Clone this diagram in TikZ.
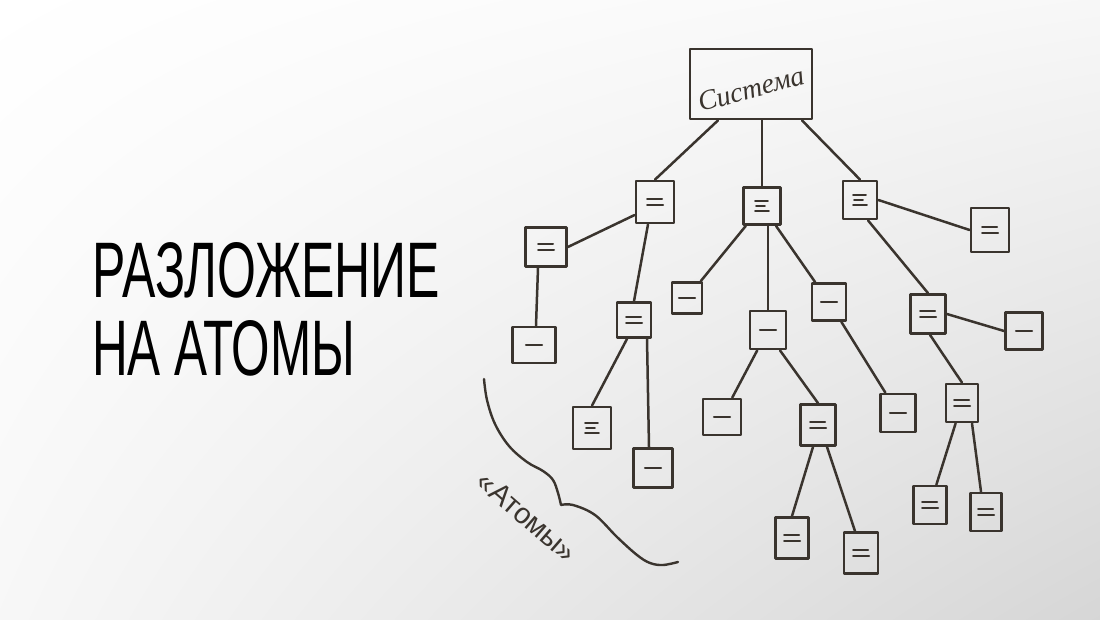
\documentclass[tikz,border=0pt]{standalone}
\usepackage{fontspec}
\setmainfont{Liberation Sans}
\newfontfamily\handfont{Liberation Serif}
\usetikzlibrary{calc,shadings}
\definecolor{ink}{RGB}{58,52,46}
\begin{document}
\begin{tikzpicture}[x=1pt,y=-1pt,
  box/.style={draw=ink, line width=2.8pt, inner sep=0pt, line join=round},
  sz/.style 2 args={minimum width=#1pt, minimum height=#2pt},
  link/.style={draw=ink, line width=2.5pt, line cap=round},
  mk1/.style={path picture={\draw[ink, line width=2.1pt, line cap=round]
     ([xshift=-8pt]path picture bounding box.center) -- ([xshift=8pt]path picture bounding box.center);}},
  mk2/.style={path picture={\draw[ink, line width=2pt, line cap=round]
     ([shift={(-8pt,2.8pt)}]path picture bounding box.center) -- ([shift={(7pt,2.8pt)}]path picture bounding box.center)
     ([shift={(-8pt,-2.8pt)}]path picture bounding box.center) -- ([shift={(8pt,-2.8pt)}]path picture bounding box.center);}},
  mk3/.style={path picture={\draw[ink, line width=1.9pt, line cap=round]
     ([shift={(-7pt,5pt)}]path picture bounding box.center) -- ([shift={(6pt,5pt)}]path picture bounding box.center)
     ([shift={(-6pt,0pt)}]path picture bounding box.center) -- ([shift={(3pt,0pt)}]path picture bounding box.center)
     ([shift={(-7pt,-5pt)}]path picture bounding box.center) -- ([shift={(7pt,-5pt)}]path picture bounding box.center);}}
]
\useasboundingbox (0,0) rectangle (1100,620);
\shade[upper left=white, upper right=white!97!black, lower left=white!97!black, lower right=white!84!black]
  (0,0) rectangle (1100,620);

% title
\node[anchor=south west, inner sep=0pt] (t1) at (92,298)
  {\resizebox{348pt}{55pt}{\fontsize{77}{77}\selectfont РАЗЛОЖЕНИЕ}};
\node[anchor=south west, inner sep=0pt] (t2) at (92,376)
  {\resizebox{263pt}{55pt}{\fontsize{77}{77}\selectfont НА АТОМЫ}};

% root
\node[box, sz={122}{70}] (root) at (751,84) {};
\node[rotate=15, text=ink, inner sep=0pt] (rootlabel) at (751,89)
  {\handfont\itshape\fontsize{28}{28}\selectfont Система};

% level 1
\node[box, sz={38}{42}, mk2] (A1) at (655,202) {};
\node[box, sz={37}{37}, mk3] (A2) at (762,206) {};
\node[box, sz={34}{38}, mk3] (A3) at (860,200) {};

% A3 subtree
\node[box, sz={38}{44}, mk2] (B) at (990,230) {};
\node[box, sz={35}{39}, mk2] (C) at (928,314) {};
\node[box, sz={37}{37}, mk1] (D) at (1024,331) {};
\node[box, sz={32}{38}, mk2] (E) at (962,403) {};
\node[box, sz={33}{38}, mk2] (F) at (930,505) {};
\node[box, sz={31}{38}, mk2] (G) at (986,512) {};

% A2 subtree
\node[box, sz={30}{31}, mk1] (H) at (687,298) {};
\node[box, sz={36}{38}, mk1] (I) at (768,330) {};
\node[box, sz={34}{37}, mk1] (J) at (829,302) {};
\node[box, sz={35}{38}, mk1] (K) at (898,413) {};
\node[box, sz={38}{36}, mk1] (L) at (722,417) {};
\node[box, sz={35}{41}, mk2] (M) at (818,425) {};
\node[box, sz={33}{41}, mk2] (N) at (792,538) {};
\node[box, sz={34}{41}, mk2] (O) at (861,553) {};

% A1 subtree
\node[box, sz={41}{39}, mk2] (P) at (546,247) {};
\node[box, sz={43}{36}, mk1] (Q) at (534,345) {};
\node[box, sz={34}{35}, mk2] (R) at (634,320) {};
\node[box, sz={38}{42}, mk3] (S) at (592,428) {};
\node[box, sz={39}{39}, mk1] (T) at (653,468) {};

% connectors
\draw[link] ([xshift=-33pt]root.south) -- (A1.north);
\draw[link] (A2.north |- root.south) -- (A2.north);
\draw[link] ([xshift=51pt]root.south) -- (A3.north);

\draw[link] (A3.east) -- (B.west);
\draw[link] ([xshift=8pt]A3.south) -- (C.north);
\draw[link] (C.east) -- (D.west);
\draw[link] ([xshift=2pt]C.south) -- (E.north);
\draw[link] (E) -- (F);
\draw[link] ([xshift=10pt]E.south) -- ([xshift=-5pt]G.north);

\draw[link] (A2) -- (H);
\draw[link] (A2.south -| I.north) -- (I.north);
\draw[link] ([xshift=14pt]A2.south) -- (J);
\draw[link] (J) -- (K);
\draw[link] (I) -- (L);
\draw[link] ([xshift=12pt]I.south) -- (M.north);
\draw[link] ([xshift=-5pt]M.south) -- (N.north);
\draw[link] ([xshift=9pt]M.south) -- ([xshift=-6pt]O.north);

\draw[link] ([yshift=-13pt]A1.west) -- (P.east);
\draw[link] ([xshift=-8pt]P.south) -- ([xshift=2pt]Q.north);
\draw[link] ([xshift=-7pt]A1.south) -- (R.north);
\draw[link] ([xshift=-7pt]R.south) -- (S.north);
\draw[link] ([xshift=13pt]R.south) -- ([xshift=-4pt]T.north);

% atoms boundary
\draw[ink, line width=2.4pt, line cap=round, line join=round]
  plot[smooth, tension=0.6] coordinates {(484,379) (487,400) (495,424) (509,446) (527,462) (543,471) (553,480) (558,493) (561,505)}
  -- plot[smooth, tension=0.6] coordinates {(561,505) (573,505) (595,515) (617,537) (637,555) (650,563) (663,565) (678,562)};
\node[rotate=-41, text=ink, inner sep=0pt] (atoms) at (527,517)
  {\fontsize{29}{29}\selectfont «Атомы»};
\end{tikzpicture}
\end{document}
